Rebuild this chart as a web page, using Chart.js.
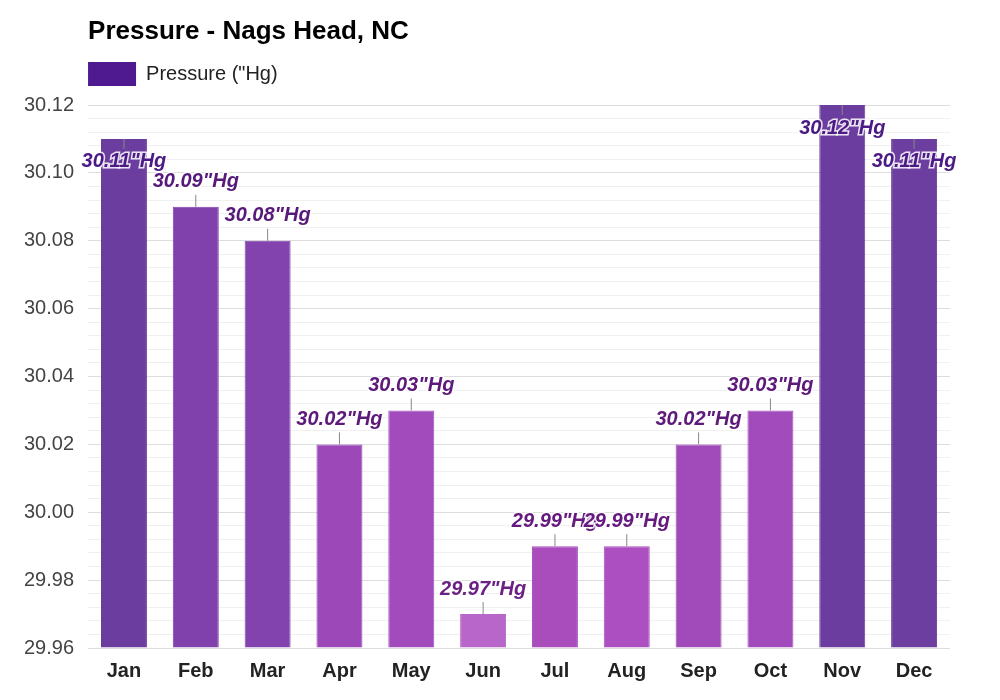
<!DOCTYPE html>
<html><head><meta charset="utf-8">
<script src="https://cdn.jsdelivr.net/npm/chart.js@4"></script>
<style>body{margin:0;background:#fff}</style></head>
<body><canvas id="c" width="1000" height="700"></canvas>
<script>
const months=["Jan","Feb","Mar","Apr","May","Jun","Jul","Aug","Sep","Oct","Nov","Dec"];
const pressure=[30.11,30.09,30.08,30.02,30.03,29.97,29.99,29.99,30.02,30.03,30.12,30.11];
const barColors=["#6b3d9e","#8141ac","#8343ae","#9c48b8","#a24bbc","#b866c9","#a94dbd","#ac4fc0","#a14ab9","#a24bbc","#6b3d9e","#6c3ea0"];
const labelColors=["#4b1a85","#551a7a","#581a78","#5e1a7a","#5e1a7a","#6a2085","#661a80","#661a80","#5e1a7a","#5e1a7a","#4b1a85","#4b1a85"];
const F="'Liberation Sans', Arial, sans-serif";
const headPlugin={id:"head",afterDraw(ch){
 const ctx=ch.ctx,x=ch.chartArea.left;ctx.save();
 ctx.fillStyle="#000";ctx.font="bold 26px "+F;ctx.textBaseline="middle";ctx.textAlign="left";
 ctx.fillText("Pressure - Nags Head, NC",x,32);
 ctx.fillStyle="#4f1a8f";ctx.fillRect(x,62,48,24);
 ctx.fillStyle="#222";ctx.font="20px "+F;ctx.fillText('Pressure ("Hg)',x+58,74);
 ctx.restore();}};
const labelPlugin={id:"lbl",afterDatasetsDraw(ch){
 const ctx=ch.ctx,meta=ch.getDatasetMeta(0),top=ch.chartArea.top;
 ctx.save();ctx.font="italic bold 20px "+F;ctx.textAlign="center";ctx.textBaseline="middle";
 meta.data.forEach((b,i)=>{
  let inside=b.y<top+50;
  let ly=inside?b.y+23:b.y-25;
  ctx.strokeStyle="#888";ctx.lineWidth=1;ctx.beginPath();ctx.moveTo(b.x,b.y);ctx.lineTo(b.x,b.y+(inside?10:-12));ctx.stroke();
  const t=pressure[i].toFixed(2)+'"Hg';
  ctx.lineWidth=3;ctx.strokeStyle="rgba(255,255,255,0.85)";ctx.strokeText(t,b.x,ly);
  ctx.fillStyle=labelColors[i];ctx.fillText(t,b.x,ly);
 });ctx.restore();}};
new Chart(document.getElementById("c"),{type:"bar",
 data:{labels:months,datasets:[{label:'Pressure ("Hg)',data:pressure,backgroundColor:barColors,borderColor:barColors,borderWidth:1,categoryPercentage:1,barPercentage:0.64,base:29.96}]},
 options:{responsive:false,animation:false,devicePixelRatio:1,
  layout:{padding:{left:10,right:50,top:105,bottom:14}},
  plugins:{title:{display:false},legend:{display:false},tooltip:{enabled:false}},
  scales:{x:{grid:{display:false},border:{display:false},ticks:{maxRotation:0,color:"#222",font:{size:20,weight:"bold",family:F}}},
   y:{min:29.96,max:30.12,border:{display:false},
    afterBuildTicks(a){const t=[];for(let i=0;i<=40;i++)t.push({value:+(29.96+i*0.004).toFixed(3)});a.ticks=t;},
    grid:{color:c=>{const v=Math.round(c.tick.value*1000);return v%20===0?"#dddddd":"#f0f0f0";},drawTicks:false},
    ticks:{padding:14,color:"#444",font:{size:20,family:F},autoSkip:false,
     callback:v=>{const m=Math.round(v*1000);return m%20===0?v.toFixed(2):"";}}}}},
 plugins:[labelPlugin,headPlugin]});
</script></body></html>
